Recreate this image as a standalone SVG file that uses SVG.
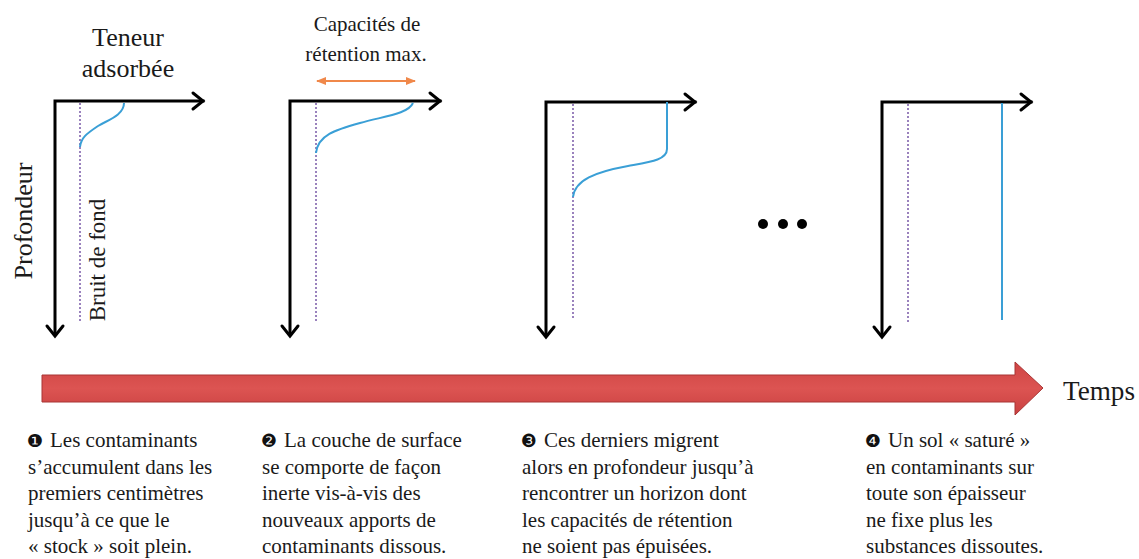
<svg xmlns="http://www.w3.org/2000/svg" width="1139" height="559" viewBox="0 0 1139 559" font-family="Liberation Serif, Times New Roman, serif">
<defs>
<style>
.t{fill:#1a1a1a}
.ax{fill:none;stroke:#000;stroke-width:3;stroke-linecap:square}
.hd{fill:none;stroke:#000;stroke-width:3;stroke-linecap:round;stroke-linejoin:miter}
.dot{fill:none;stroke:#7a5aa8;stroke-width:1.5;stroke-dasharray:2 2}
.bl{fill:none;stroke:#3a9fd6;stroke-width:2}
.num{font-size:18px;fill:#111}
.b{font-size:21px}
</style>
<linearGradient id="rg" x1="0" y1="0" x2="0" y2="1">
<stop offset="0" stop-color="#cf4444"/>
<stop offset="0.5" stop-color="#dc5452"/>
<stop offset="1" stop-color="#c94040"/>
</linearGradient>
<marker id="oa" viewBox="0 0 10 10" refX="9" refY="5" markerWidth="5" markerHeight="5" orient="auto-start-reverse" markerUnits="strokeWidth">
<path d="M0,1 L10,5 L0,9 Z" fill="#f0884a"/>
</marker>
</defs>
<rect width="1139" height="559" fill="#fff"/>

<g id="labels">
<text class="t" x="128" y="46" font-size="26" text-anchor="middle">Teneur</text>
<text class="t" x="128" y="77" font-size="26" text-anchor="middle">adsorbée</text>
<text class="t" transform="translate(32,221) rotate(-90)" font-size="26" text-anchor="middle">Profondeur</text>
<text class="t" transform="translate(105,260) rotate(-90)" font-size="23" text-anchor="middle">Bruit de fond</text>
<text class="t" x="367" y="31" font-size="21" text-anchor="middle">Capacités de</text>
<text class="t" x="366" y="61" font-size="21" text-anchor="middle">rétention max.</text>
</g>

<g id="graph1">
<path class="ax" d="M203,101 L55,101 L55,334"/>
<path class="hd" d="M193,93 L203,101 L193,109"/>
<path class="hd" d="M47,326 L55,336 L63,326"/>
<line class="dot" x1="80" y1="103" x2="80" y2="323"/>
<path class="bl" d="M124,103 C124,115 108,120 98,126 C86,134 81,138 80,147"/>
</g>

<g id="graph2">
<path class="ax" d="M440,101 L290,101 L290,334"/>
<path class="hd" d="M430,93 L440,101 L430,109"/>
<path class="hd" d="M282,326 L290,336 L298,326"/>
<line class="dot" x1="316" y1="103" x2="316" y2="322"/>
<path class="bl" d="M413,103 C408,114 385,116 360,123 C335,130 318,135 316,153"/>
<line x1="317" y1="81" x2="415" y2="81" stroke="#f0884a" stroke-width="2" marker-start="url(#oa)" marker-end="url(#oa)"/>
</g>

<g id="graph3">
<path class="ax" d="M695,102 L546,102 L546,335"/>
<path class="hd" d="M685,94 L695,102 L685,110"/>
<path class="hd" d="M538,327 L546,337 L554,327"/>
<line class="dot" x1="573" y1="104" x2="573" y2="320"/>
<path class="bl" d="M667,102 L667,149 C667,160 650,162 628,166 C595,172 575,180 573,197"/>
</g>

<g id="ellipsis">
<circle cx="763" cy="224" r="5" fill="#000"/>
<circle cx="783" cy="224" r="5" fill="#000"/>
<circle cx="802" cy="224" r="5" fill="#000"/>
</g>

<g id="graph4">
<path class="ax" d="M1031,102 L882,102 L882,335"/>
<path class="hd" d="M1021,94 L1031,102 L1021,110"/>
<path class="hd" d="M874,327 L882,337 L890,327"/>
<line class="dot" x1="908" y1="104" x2="908" y2="322" stroke="#8a7a9a"/>
<line class="bl" x1="1002" y1="103" x2="1002" y2="320"/>
</g>

<g id="timeline">
<path d="M42,375 L1015,375 L1015,362 L1043,388 L1015,415 L1015,402 L42,402 Z" fill="url(#rg)" stroke="#a83434" stroke-width="1"/>
<text class="t" x="1063" y="400" font-size="28" textLength="72" lengthAdjust="spacingAndGlyphs">Temps</text>
</g>

<g id="step1">
<text class="num" x="27" y="447" font-family="DejaVu Sans, sans-serif">❶</text>
<text class="t b" x="50" y="447">Les contaminants</text>
<text class="t b" x="28" y="473.5">s’accumulent dans les</text>
<text class="t b" x="28" y="500">premiers centimètres</text>
<text class="t b" x="28" y="526.5">jusqu’à ce que le</text>
<text class="t b" x="28" y="553">« stock » soit plein.</text>
</g>

<g id="step2">
<text class="num" x="261" y="447" font-family="DejaVu Sans, sans-serif">❷</text>
<text class="t b" x="284" y="447">La couche de surface</text>
<text class="t b" x="262" y="473.5">se comporte de façon</text>
<text class="t b" x="262" y="500">inerte vis-à-vis des</text>
<text class="t b" x="262" y="526.5">nouveaux apports de</text>
<text class="t b" x="262" y="553">contaminants dissous.</text>
</g>

<g id="step3">
<text class="num" x="521" y="447" font-family="DejaVu Sans, sans-serif">❸</text>
<text class="t b" x="544" y="447">Ces derniers migrent</text>
<text class="t b" x="522" y="473.5">alors en profondeur jusqu’à</text>
<text class="t b" x="522" y="500">rencontrer un horizon dont</text>
<text class="t b" x="522" y="526.5">les capacités de rétention</text>
<text class="t b" x="522" y="553">ne soient pas épuisées.</text>
</g>

<g id="step4">
<text class="num" x="865" y="447" font-family="DejaVu Sans, sans-serif">❹</text>
<text class="t b" x="888" y="447">Un sol « saturé »</text>
<text class="t b" x="866" y="473.5">en contaminants sur</text>
<text class="t b" x="866" y="500">toute son épaisseur</text>
<text class="t b" x="866" y="526.5">ne fixe plus les</text>
<text class="t b" x="866" y="553">substances dissoutes.</text>
</g>
</svg>
